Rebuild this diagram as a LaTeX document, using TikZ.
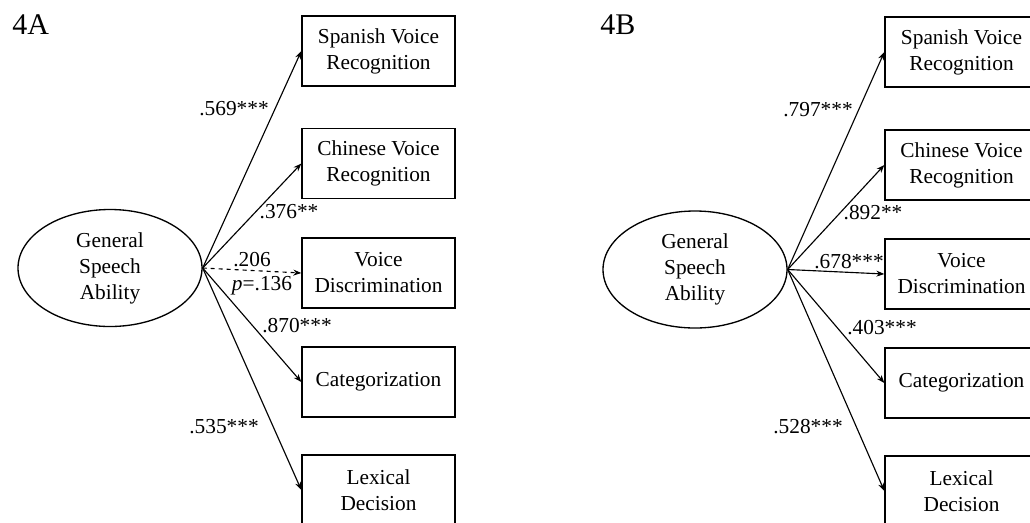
\documentclass[tikz,border=0pt]{standalone}
\usepackage{fontspec}
\setmainfont{Liberation Serif}
\usetikzlibrary{arrows.meta,shapes.geometric}
\begin{document}
\begin{tikzpicture}[x=0.75pt,y=-0.75pt,
  every node/.style={font=\fontsize{16pt}{19.5pt}\selectfont},
  box/.style={draw, line width=1pt, minimum width=114.75pt, minimum height=52.5pt, align=center, inner sep=0pt},
  latent/.style={draw, ellipse, line width=1pt, minimum width=138pt, minimum height=87.75pt, align=center, inner sep=0pt},
  pathline/.style={-{Stealth[length=6pt,width=4.5pt]}, line width=0.85pt},
  coef/.style={inner sep=0pt},
  panel/.style={font=\fontsize{22.5pt}{27pt}\selectfont, inner sep=0pt, anchor=west}]
\clip (0,0) rectangle (1030,522);
% Panel A
\node[panel] (labA) at (12,25) {4A};
\node[latent] (gA) at (110,268) {General\\Speech\\Ability};
\node[box] (a1) at (378.5,51) {Spanish Voice\\Recognition};
\node[box] (a2) at (378.5,163.5) {Chinese Voice\\Recognition};
\node[box] (a3) at (378.5,273) {Voice\\Discrimination};
\node[box] (a4) at (378.5,382) {Categorization};
\node[box] (a5) at (378.5,490) {Lexical\\Decision};
\draw[pathline] (gA.east) -- (a1.west);
\draw[pathline] (gA.east) -- (a2.west);
\draw[pathline,dashed] (gA.east) -- (a3.west);
\draw[pathline] (gA.east) -- (a4.west);
\draw[pathline] (gA.east) -- (a5.west);
\node[coef] (ca1) at (234,109) {.569***};
\node[coef] (ca2) at (289,212) {.376**};
\node[coef] (ca3) at (252,260) {.206};
\node[coef] (ca3p) at (262,286) {\textit{p}=.136};
\node[coef] (ca4) at (297,326) {.870***};
\node[coef] (ca5) at (224,427) {.535***};
% Panel B
\node[panel] (labB) at (600,25) {4B};
\node[latent] (gB) at (695,269.5) {General\\Speech\\Ability};
\node[box] (b1) at (961.5,52) {Spanish Voice\\Recognition};
\node[box] (b2) at (961.5,165) {Chinese Voice\\Recognition};
\node[box] (b3) at (961.5,274) {Voice\\Discrimination};
\node[box] (b4) at (961.5,383) {Categorization};
\node[box] (b5) at (961.5,491) {Lexical\\Decision};
\draw[pathline] (gB.east) -- (b1.west);
\draw[pathline] (gB.east) -- (b2.west);
\draw[pathline] (gB.east) -- (b3.west);
\draw[pathline] (gB.east) -- (b4.west);
\draw[pathline] (gB.east) -- (b5.west);
\node[coef] (cb1) at (818,110) {.797***};
\node[coef] (cb2) at (873,213) {.892**};
\node[coef] (cb3) at (849,262) {.678***};
\node[coef] (cb4) at (882,328) {.403***};
\node[coef] (cb5) at (808,427) {.528***};
\end{tikzpicture}
\end{document}
